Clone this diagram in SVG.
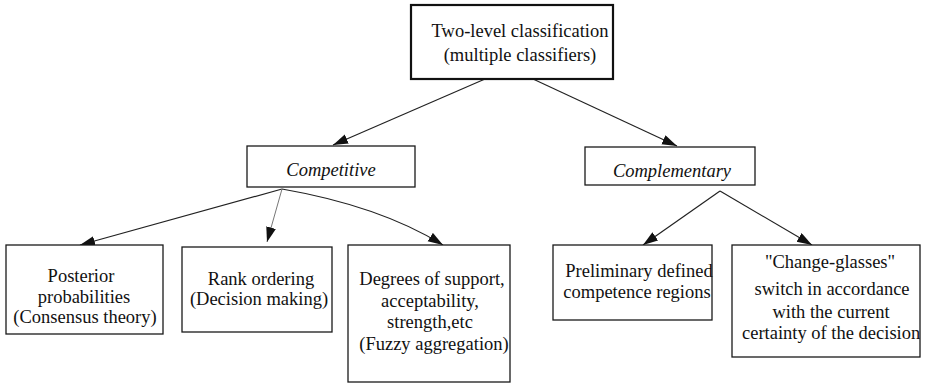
<svg xmlns="http://www.w3.org/2000/svg" width="925" height="392" viewBox="0 0 925 392">
<style>
.box{fill:#fff;stroke:#1a1a1a;stroke-width:1.3}
.top{fill:#fff;stroke:#111;stroke-width:2.2}
.t{font-family:"Times New Roman","Liberation Serif",Tinos,"DejaVu Serif","Noto Serif",serif;font-size:18.5px;fill:#111;text-anchor:middle}
.it{font-style:italic}
.ln{fill:none;stroke:#222;stroke-width:1.2}
.lt{fill:none;stroke:#777;stroke-width:1}
</style>
<defs>
<marker id="ah" markerUnits="userSpaceOnUse" markerWidth="16" markerHeight="12" refX="15" refY="5" orient="auto">
<path d="M0,0 L15,5 L0,10 z" fill="#111"/>
</marker>
<clipPath id="cDeg"><rect x="348" y="245" width="162" height="137"/></clipPath>
<clipPath id="cCg"><rect x="732" y="245" width="188" height="112"/></clipPath>
</defs>
<g id="connectors">
<line class="ln" x1="485" y1="79" x2="333" y2="145" marker-end="url(#ah)"/>
<line class="ln" x1="533" y1="79" x2="677" y2="146" marker-end="url(#ah)"/>
<line class="ln" x1="282" y1="189" x2="80" y2="245" marker-end="url(#ah)"/>
<line class="lt" x1="282" y1="189" x2="267" y2="242" marker-end="url(#ah)"/>
<path class="ln" d="M282,189 Q380,206 443,245" marker-end="url(#ah)"/>
<line class="ln" x1="720" y1="191" x2="643" y2="245" marker-end="url(#ah)"/>
<line class="ln" x1="720" y1="191" x2="812" y2="245" marker-end="url(#ah)"/>
</g>
<g id="root">
<rect class="top" x="411" y="5" width="202" height="74"/>
<text class="t" x="520" y="37">Two-level classification</text>
<text class="t" x="520" y="61">(multiple classifiers)</text>
</g>
<g id="competitive">
<rect class="box" x="247" y="146" width="168" height="41"/>
<text class="t it" x="331" y="176">Competitive</text>
</g>
<g id="complementary">
<rect class="box" x="585" y="147" width="170" height="38"/>
<text class="t it" x="672" y="177">Complementary</text>
</g>
<g id="posterior">
<rect class="box" x="6" y="245" width="157" height="89"/>
<text class="t" x="81" y="282">Posterior</text>
<text class="t" x="84" y="303">probabilities</text>
<text class="t" x="85" y="323">(Consensus theory)</text>
</g>
<g id="rank">
<rect class="box" x="182" y="247" width="150" height="85"/>
<text class="t" x="261" y="285">Rank ordering</text>
<text class="t" x="259" y="305">(Decision making)</text>
</g>
<g id="degrees">
<rect class="box" x="348" y="245" width="162" height="137"/>
<g clip-path="url(#cDeg)">
<text class="t" x="432" y="285">Degrees of support,</text>
<text class="t" x="430" y="307">acceptability,</text>
<text class="t" x="430" y="328">strength,etc</text>
<text class="t" x="434" y="350">(Fuzzy aggregation)</text>
</g>
</g>
<g id="preliminary">
<rect class="box" x="553" y="245" width="159" height="75"/>
<text class="t" x="639" y="277">Preliminary defined</text>
<text class="t" x="637" y="298">competence regions</text>
</g>
<g id="changeglasses">
<rect class="box" x="732" y="245" width="188" height="112"/>
<g clip-path="url(#cCg)">
<text class="t" x="830" y="268">"Change-glasses"</text>
<text class="t" x="832" y="295">switch in accordance</text>
<text class="t" x="831" y="318">with the current</text>
<text class="t" x="742" y="339" style="text-anchor:start">certainty of the decision</text>
</g>
</g>
</svg>
